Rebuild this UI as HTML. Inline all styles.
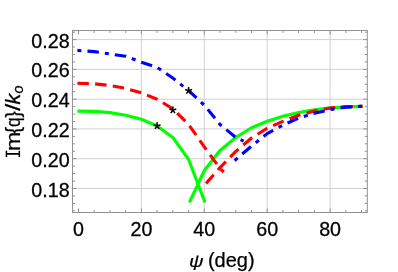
<!DOCTYPE html><html><head><meta charset="utf-8"><style>html,body{margin:0;padding:0;background:#fff}svg{display:block}svg{will-change:transform}text{font-family:"Liberation Sans",sans-serif;fill:#000}</style></head><body>
<svg width="398" height="272" viewBox="0 0 398 272">
<rect width="398" height="272" fill="#fff"/>
<g stroke="#cfcfcf" stroke-width="0.95" fill="none"><line x1="141.4" y1="30.5" x2="141.4" y2="212.5"/><line x1="204.3" y1="30.5" x2="204.3" y2="212.5"/><line x1="267.2" y1="30.5" x2="267.2" y2="212.5"/><line x1="330.1" y1="30.5" x2="330.1" y2="212.5"/><line x1="72.5" y1="188.5" x2="367.3" y2="188.5"/><line x1="72.5" y1="158.7" x2="367.3" y2="158.7"/><line x1="72.5" y1="128.9" x2="367.3" y2="128.9"/><line x1="72.5" y1="99.2" x2="367.3" y2="99.2"/><line x1="72.5" y1="69.4" x2="367.3" y2="69.4"/><line x1="72.5" y1="39.6" x2="367.3" y2="39.6"/></g>
<g id="curves">
<polyline points="77.4,111.1 94.2,111.4 110.0,112.6 125.7,115.2 141.4,119.3 157.1,126.0 172.8,137.4 188.6,159.5 205.0,202.4" fill="none" stroke="#00ff00" stroke-width="3.1" stroke-linejoin="round"/>
<polyline points="189.4,202.4 204.3,170.5 220.0,150.5 235.8,137.5 251.5,127.8 267.2,121.2 282.9,116.3 298.6,112.5 314.4,109.7 330.1,107.9 345.8,106.9 362.7,106.4" fill="none" stroke="#00ff00" stroke-width="3.1" stroke-linejoin="round"/>
<polyline points="77.4,83.2 94.2,83.8 110.0,85.5 125.7,88.4 141.4,92.8 157.1,99.2 172.8,108.8 188.6,124.5 204.3,146.8 220.0,168.4 223.8,172.0" fill="none" stroke="#ff0000" stroke-width="3.1" stroke-linejoin="round" stroke-dasharray="11.45 6.3" stroke-dashoffset="0"/>
<polyline points="205.7,183.8 220.0,167.6 235.8,151.4 251.5,138.0 267.2,128.2 282.9,121.3 298.6,115.2 314.4,111.1 330.1,108.1 345.8,106.6 362.7,106.2" fill="none" stroke="#ff0000" stroke-width="3.1" stroke-linejoin="round" stroke-dasharray="11.5 6.35" stroke-dashoffset="-0.6"/>
<polyline points="77.4,50.4 94.2,51.6 110.0,54.0 125.7,56.2 141.4,62.2 157.1,67.4 172.8,78.0 188.6,90.7 204.3,105.1 220.0,124.5 235.8,137.4 243.6,141.1" fill="none" stroke="#0000ff" stroke-width="3.1" stroke-linejoin="round" stroke-dasharray="4 6.05 11.5 6.05" stroke-dashoffset="0"/>
<polyline points="234.5,160.4 235.8,159.5 251.5,146.1 267.2,133.6 282.9,125.1 298.6,118.1 314.4,113.3 330.1,109.6 345.8,107.2 362.7,106.2" fill="none" stroke="#0000ff" stroke-width="3.1" stroke-linejoin="round" stroke-dasharray="4 6.05 11.5 6.05" stroke-dashoffset="0"/>
</g>
<g stroke="#929292" stroke-width="1" fill="none"><line x1="78.5" y1="212.5" x2="78.5" y2="208.5"/><line x1="78.5" y1="30.5" x2="78.5" y2="34.5"/><line x1="94.2" y1="212.5" x2="94.2" y2="210.0"/><line x1="94.2" y1="30.5" x2="94.2" y2="33.0"/><line x1="110.0" y1="212.5" x2="110.0" y2="210.0"/><line x1="110.0" y1="30.5" x2="110.0" y2="33.0"/><line x1="125.7" y1="212.5" x2="125.7" y2="210.0"/><line x1="125.7" y1="30.5" x2="125.7" y2="33.0"/><line x1="141.4" y1="212.5" x2="141.4" y2="208.5"/><line x1="141.4" y1="30.5" x2="141.4" y2="34.5"/><line x1="157.1" y1="212.5" x2="157.1" y2="210.0"/><line x1="157.1" y1="30.5" x2="157.1" y2="33.0"/><line x1="172.8" y1="212.5" x2="172.8" y2="210.0"/><line x1="172.8" y1="30.5" x2="172.8" y2="33.0"/><line x1="188.6" y1="212.5" x2="188.6" y2="210.0"/><line x1="188.6" y1="30.5" x2="188.6" y2="33.0"/><line x1="204.3" y1="212.5" x2="204.3" y2="208.5"/><line x1="204.3" y1="30.5" x2="204.3" y2="34.5"/><line x1="220.0" y1="212.5" x2="220.0" y2="210.0"/><line x1="220.0" y1="30.5" x2="220.0" y2="33.0"/><line x1="235.8" y1="212.5" x2="235.8" y2="210.0"/><line x1="235.8" y1="30.5" x2="235.8" y2="33.0"/><line x1="251.5" y1="212.5" x2="251.5" y2="210.0"/><line x1="251.5" y1="30.5" x2="251.5" y2="33.0"/><line x1="267.2" y1="212.5" x2="267.2" y2="208.5"/><line x1="267.2" y1="30.5" x2="267.2" y2="34.5"/><line x1="282.9" y1="212.5" x2="282.9" y2="210.0"/><line x1="282.9" y1="30.5" x2="282.9" y2="33.0"/><line x1="298.6" y1="212.5" x2="298.6" y2="210.0"/><line x1="298.6" y1="30.5" x2="298.6" y2="33.0"/><line x1="314.4" y1="212.5" x2="314.4" y2="210.0"/><line x1="314.4" y1="30.5" x2="314.4" y2="33.0"/><line x1="330.1" y1="212.5" x2="330.1" y2="208.5"/><line x1="330.1" y1="30.5" x2="330.1" y2="34.5"/><line x1="345.8" y1="212.5" x2="345.8" y2="210.0"/><line x1="345.8" y1="30.5" x2="345.8" y2="33.0"/><line x1="361.6" y1="212.5" x2="361.6" y2="210.0"/><line x1="361.6" y1="30.5" x2="361.6" y2="33.0"/><line x1="72.5" y1="210.8" x2="75.0" y2="210.8"/><line x1="367.3" y1="210.8" x2="364.8" y2="210.8"/><line x1="72.5" y1="203.4" x2="75.0" y2="203.4"/><line x1="367.3" y1="203.4" x2="364.8" y2="203.4"/><line x1="72.5" y1="195.9" x2="75.0" y2="195.9"/><line x1="367.3" y1="195.9" x2="364.8" y2="195.9"/><line x1="72.5" y1="188.5" x2="76.5" y2="188.5"/><line x1="367.3" y1="188.5" x2="363.3" y2="188.5"/><line x1="72.5" y1="181.1" x2="75.0" y2="181.1"/><line x1="367.3" y1="181.1" x2="364.8" y2="181.1"/><line x1="72.5" y1="173.6" x2="75.0" y2="173.6"/><line x1="367.3" y1="173.6" x2="364.8" y2="173.6"/><line x1="72.5" y1="166.2" x2="75.0" y2="166.2"/><line x1="367.3" y1="166.2" x2="364.8" y2="166.2"/><line x1="72.5" y1="158.7" x2="76.5" y2="158.7"/><line x1="367.3" y1="158.7" x2="363.3" y2="158.7"/><line x1="72.5" y1="151.3" x2="75.0" y2="151.3"/><line x1="367.3" y1="151.3" x2="364.8" y2="151.3"/><line x1="72.5" y1="143.8" x2="75.0" y2="143.8"/><line x1="367.3" y1="143.8" x2="364.8" y2="143.8"/><line x1="72.5" y1="136.4" x2="75.0" y2="136.4"/><line x1="367.3" y1="136.4" x2="364.8" y2="136.4"/><line x1="72.5" y1="128.9" x2="76.5" y2="128.9"/><line x1="367.3" y1="128.9" x2="363.3" y2="128.9"/><line x1="72.5" y1="121.5" x2="75.0" y2="121.5"/><line x1="367.3" y1="121.5" x2="364.8" y2="121.5"/><line x1="72.5" y1="114.1" x2="75.0" y2="114.1"/><line x1="367.3" y1="114.1" x2="364.8" y2="114.1"/><line x1="72.5" y1="106.6" x2="75.0" y2="106.6"/><line x1="367.3" y1="106.6" x2="364.8" y2="106.6"/><line x1="72.5" y1="99.2" x2="76.5" y2="99.2"/><line x1="367.3" y1="99.2" x2="363.3" y2="99.2"/><line x1="72.5" y1="91.7" x2="75.0" y2="91.7"/><line x1="367.3" y1="91.7" x2="364.8" y2="91.7"/><line x1="72.5" y1="84.3" x2="75.0" y2="84.3"/><line x1="367.3" y1="84.3" x2="364.8" y2="84.3"/><line x1="72.5" y1="76.8" x2="75.0" y2="76.8"/><line x1="367.3" y1="76.8" x2="364.8" y2="76.8"/><line x1="72.5" y1="69.4" x2="76.5" y2="69.4"/><line x1="367.3" y1="69.4" x2="363.3" y2="69.4"/><line x1="72.5" y1="61.9" x2="75.0" y2="61.9"/><line x1="367.3" y1="61.9" x2="364.8" y2="61.9"/><line x1="72.5" y1="54.5" x2="75.0" y2="54.5"/><line x1="367.3" y1="54.5" x2="364.8" y2="54.5"/><line x1="72.5" y1="47.0" x2="75.0" y2="47.0"/><line x1="367.3" y1="47.0" x2="364.8" y2="47.0"/><line x1="72.5" y1="39.6" x2="76.5" y2="39.6"/><line x1="367.3" y1="39.6" x2="363.3" y2="39.6"/><line x1="72.5" y1="32.2" x2="75.0" y2="32.2"/><line x1="367.3" y1="32.2" x2="364.8" y2="32.2"/></g>
<rect x="72.5" y="30.5" width="294.8" height="182.0" fill="none" stroke="#929292" stroke-width="1"/>
<g stroke="#000" stroke-width="1.55" fill="none"><line x1="157.12" y1="125.96" x2="157.12" y2="122.36"/><line x1="157.12" y1="125.96" x2="160.55" y2="124.85"/><line x1="157.12" y1="125.96" x2="159.24" y2="128.87"/><line x1="157.12" y1="125.96" x2="155.01" y2="128.87"/><line x1="157.12" y1="125.96" x2="153.70" y2="124.85"/></g>
<g stroke="#000" stroke-width="1.55" fill="none"><line x1="172.85" y1="110.18" x2="172.85" y2="106.58"/><line x1="172.85" y1="110.18" x2="176.27" y2="109.07"/><line x1="172.85" y1="110.18" x2="174.97" y2="113.09"/><line x1="172.85" y1="110.18" x2="170.73" y2="113.09"/><line x1="172.85" y1="110.18" x2="169.43" y2="109.07"/></g>
<g stroke="#000" stroke-width="1.55" fill="none"><line x1="188.57" y1="90.67" x2="188.57" y2="87.07"/><line x1="188.57" y1="90.67" x2="192.00" y2="89.56"/><line x1="188.57" y1="90.67" x2="190.69" y2="93.59"/><line x1="188.57" y1="90.67" x2="186.46" y2="93.59"/><line x1="188.57" y1="90.67" x2="185.15" y2="89.56"/></g>
<text transform="translate(69.6,196.5) scale(0.96,1)" font-size="20.5" text-anchor="end" stroke="#000" stroke-width="0.3">0.18</text>
<text transform="translate(69.6,166.7) scale(0.96,1)" font-size="20.5" text-anchor="end" stroke="#000" stroke-width="0.3">0.20</text>
<text transform="translate(69.6,136.9) scale(0.96,1)" font-size="20.5" text-anchor="end" stroke="#000" stroke-width="0.3">0.22</text>
<text transform="translate(69.6,107.2) scale(0.96,1)" font-size="20.5" text-anchor="end" stroke="#000" stroke-width="0.3">0.24</text>
<text transform="translate(69.6,77.4) scale(0.96,1)" font-size="20.5" text-anchor="end" stroke="#000" stroke-width="0.3">0.26</text>
<text transform="translate(69.6,47.6) scale(0.96,1)" font-size="20.5" text-anchor="end" stroke="#000" stroke-width="0.3">0.28</text>
<text transform="translate(78.5,236.2) scale(0.96,1)" font-size="20.5" text-anchor="middle" stroke="#000" stroke-width="0.3">0</text>
<text transform="translate(141.4,236.2) scale(0.96,1)" font-size="20.5" text-anchor="middle" stroke="#000" stroke-width="0.3">20</text>
<text transform="translate(204.3,236.2) scale(0.96,1)" font-size="20.5" text-anchor="middle" stroke="#000" stroke-width="0.3">40</text>
<text transform="translate(267.2,236.2) scale(0.96,1)" font-size="20.5" text-anchor="middle" stroke="#000" stroke-width="0.3">60</text>
<text transform="translate(330.1,236.2) scale(0.96,1)" font-size="20.5" text-anchor="middle" stroke="#000" stroke-width="0.3">80</text>
<text transform="translate(188.9,267.1) scale(1,0.86)" font-size="20" font-style="italic" stroke="#000" stroke-width="0.25">ψ</text>
<text x="207.9" y="266.6" font-size="20" stroke="#000" stroke-width="0.25">(deg)</text>
<g transform="translate(20.1,157) rotate(-90)"><path d="M0,0h6.2v-1.5h-2.2v-11.4h2.2v-1.5h-6.2v1.5h2.2v11.4h-2.2z" fill="#000"/><g stroke="#000" stroke-width="0.25"><text transform="translate(6.00,0.0) scale(1.150,1)" font-size="20">m</text><text transform="translate(23.60,0.0) scale(1.000,1)" font-size="20">{</text><text transform="translate(30.00,0.0) scale(0.870,1)" font-size="20">q</text><text transform="translate(39.50,0.0) scale(0.950,1)" font-size="20">}</text><text transform="translate(46.20,0.0) scale(1.250,1)" font-size="20">/</text><text transform="translate(52.40,0.0) scale(1.080,1)" font-size="20" font-style="italic">k</text><text transform="translate(63.60,3.0) scale(1.000,1)" font-size="14.5" font-style="italic">o</text></g></g>
</svg></body></html>
